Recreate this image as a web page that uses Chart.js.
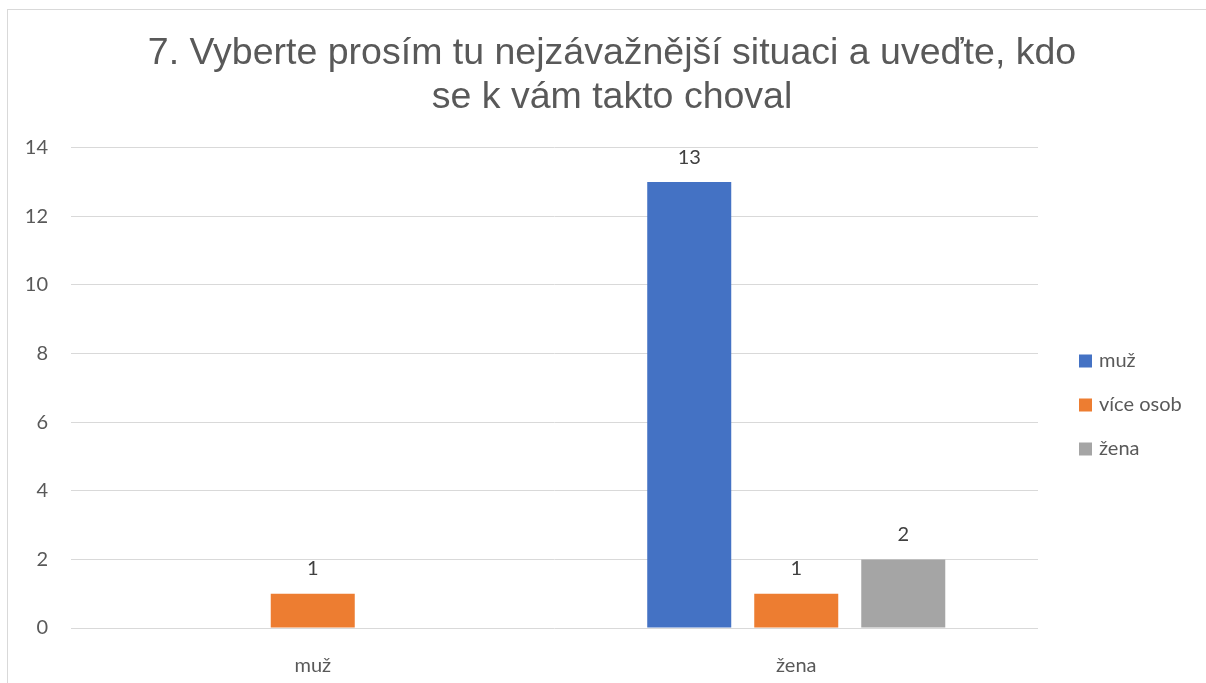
<!DOCTYPE html>
<html>
<head>
<meta charset="utf-8">
<script src="https://cdn.jsdelivr.net/npm/chart.js@4"></script>
<style>
    html, body { margin: 0; padding: 0; background: #fff; overflow: hidden; }
    #frame {
        position: absolute; left: 7px; top: 9px; width: 1260px; height: 740px;
        border: 1px solid #d9d9d9;
    }
    #chart { position: absolute; left: 8px; top: 10px; }
</style>
</head>
<body>
<div id="frame"></div>
<canvas id="chart" width="1208" height="683"></canvas>
<script>
    var categories = ['muž', 'žena'];
    var seriesNames = ['muž', 'více osob', 'žena'];
    var muzValues = [null, 13];
    var viceOsobValues = [1, 1];
    var zenaValues = [null, 2];
    var seriesColors = ['#4472C4', '#ED7D31', '#A5A5A5'];
    var yTicks = [0, 2, 4, 6, 8, 10, 12, 14];

    var bodyFont = 'Lato, "Noto Sans", sans-serif';

    // value labels above each bar
    var valueLabels = {
        id: 'valueLabels',
        afterDatasetsDraw: function (chart) {
            var ctx = chart.ctx;
            ctx.save();
            ctx.font = '20px ' + bodyFont;
            ctx.fillStyle = '#404040';
            ctx.textAlign = 'center';
            ctx.textBaseline = 'middle';
            chart.data.datasets.forEach(function (ds, i) {
                chart.getDatasetMeta(i).data.forEach(function (bar, j) {
                    if (ds.data[j] == null) return;
                    ctx.fillText(String(ds.data[j]), bar.x, bar.y - 25);
                });
            });
            ctx.restore();
        }
    };

    // legend box on the right side; it takes its own room in the layout
    // so the title stays centred over the whole chart
    var sideLegend = {
        id: 'sideLegend',
        beforeInit: function (chart) {
            var box = {
                position: 'right',
                weight: 1000,
                fullSize: false,
                options: {},
                isHorizontal: function () { return false; },
                update: function (maxWidth, maxHeight) {
                    this.width = 178;
                    this.height = maxHeight;
                },
                draw: function () {
                    var ctx = chart.ctx;
                    var x = this.left + 41;
                    var step = 44;
                    var n = chart.data.datasets.length;
                    var y0 = 395 - step * (n - 1) / 2;
                    ctx.save();
                    ctx.font = '20px ' + bodyFont;
                    ctx.textBaseline = 'middle';
                    ctx.textAlign = 'left';
                    chart.data.datasets.forEach(function (ds, i) {
                        var y = y0 + i * step;
                        ctx.fillStyle = ds.backgroundColor;
                        ctx.fillRect(x, y - 6.5, 13, 13);
                        ctx.fillStyle = '#595959';
                        ctx.fillText(ds.label, x + 20, y);
                    });
                    ctx.restore();
                }
            };
            Chart.layouts.addBox(chart, box);
        }
    };

    var config = {
        type: 'bar',
        data: {
            labels: categories,
            datasets: [
                { label: seriesNames[0], data: muzValues, backgroundColor: seriesColors[0] },
                { label: seriesNames[1], data: viceOsobValues, backgroundColor: seriesColors[1] },
                { label: seriesNames[2], data: zenaValues, backgroundColor: seriesColors[2] }
            ]
        },
        options: {
            responsive: false,
            animation: false,
            categoryPercentage: 0.664,
            barPercentage: 0.785,
            layout: { padding: 0 },
            plugins: {
                legend: { display: false },
                tooltip: { enabled: false },
                title: {
                    display: true,
                    text: ['7. Vyberte prosím tu nejzávažnější situaci a uveďte, kdo', 'se k vám takto choval'],
                    color: '#595959',
                    font: { family: '"Liberation Sans", Arial, sans-serif', size: 37.5, weight: 'normal', lineHeight: 1.17 },
                    padding: { top: 22, bottom: 28 }
                }
            },
            scales: {
                x: {
                    grid: { display: false },
                    border: { display: false },
                    ticks: { color: '#595959', font: { family: bodyFont, size: 20 }, padding: 18 },
                    afterFit: function (scale) { scale.height = 65; }
                },
                y: {
                    min: yTicks[0],
                    max: yTicks[yTicks.length - 1],
                    ticks: { stepSize: 2, color: '#595959', font: { family: bodyFont, size: 20 }, padding: 23 },
                    grid: { color: '#d9d9d9', lineWidth: 1, drawTicks: false },
                    border: { display: false },
                    afterFit: function (scale) { scale.width = 63; }
                }
            }
        },
        plugins: [valueLabels, sideLegend]
    };

    new Chart(document.getElementById('chart').getContext('2d'), config);
</script>
</body>
</html>
